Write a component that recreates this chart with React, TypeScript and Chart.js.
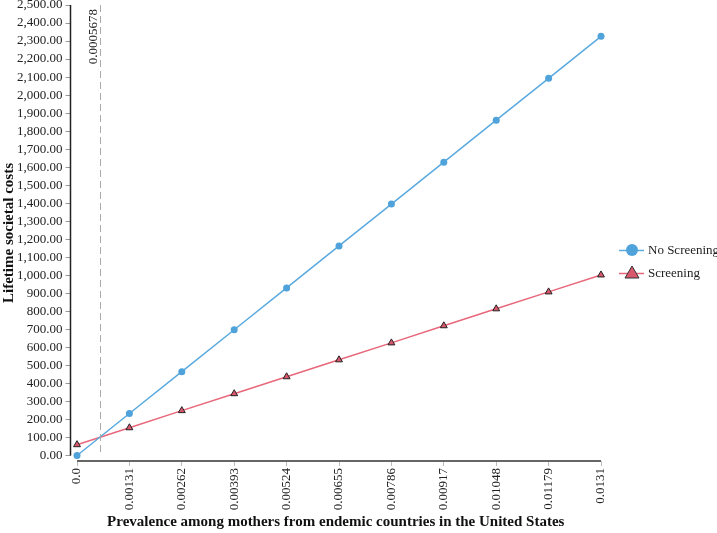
import React, { useEffect, useRef } from "react";
import { Chart, registerables } from "chart.js";

Chart.register(...registerables);

const prevalence = [0, 0.00131, 0.00262, 0.00393, 0.00524, 0.00655, 0.00786, 0.00917, 0.01048, 0.01179, 0.0131];
const prevalenceLabels = ["0.0", "0.00131", "0.00262", "0.00393", "0.00524", "0.00655", "0.00786", "0.00917", "0.01048", "0.01179", "0.0131"];
const noScreening = [0, 233, 465, 698, 930, 1163, 1395, 1628, 1861, 2093, 2326];
const screening = [60, 154, 249, 343, 437, 531, 625, 720, 814, 908, 1002];
const yTicks = Array.from({ length: 26 }, (_, i) => i * 100);
const thresholdValue = 0.0005678;
const thresholdLabel = "0.0005678";
const seriesNames = ["No Screening", "Screening"];

const BLUE = "#5aaade";
const BLUE_PT = "#4fa2da";
const RED = "#e8677a";
const RED_FILL = "#d9576c";
const FONT = "'Liberation Serif', 'Times New Roman', serif";

const fmt = (v: number) =>
  v.toLocaleString("en-US", { minimumFractionDigits: 2, maximumFractionDigits: 2 });

const decorPlugin = {
  id: "decor",
  afterDatasetsDraw(chart: any) {
    const { ctx, chartArea, scales } = chart;
    const x = scales.x;
    const y = scales.y;
    ctx.save();
    // y axis line
    ctx.strokeStyle = "#222";
    ctx.lineWidth = 1.5;
    ctx.beginPath();
    ctx.moveTo(chartArea.left, y.getPixelForValue(2500));
    ctx.lineTo(chartArea.left, y.getPixelForValue(0));
    ctx.stroke();
    // x axis line
    ctx.strokeStyle = "#666";
    ctx.lineWidth = 2;
    ctx.beginPath();
    ctx.moveTo(x.getPixelForValue(0), chartArea.bottom);
    ctx.lineTo(x.getPixelForValue(prevalence[prevalence.length - 1]), chartArea.bottom);
    ctx.stroke();
    // threshold dashed line
    const tx = Math.round(x.getPixelForValue(thresholdValue)) + 0.5;
    ctx.strokeStyle = "#aaa";
    ctx.lineWidth = 1;
    ctx.setLineDash([7, 4]);
    ctx.beginPath();
    ctx.moveTo(tx, y.getPixelForValue(2500));
    ctx.lineTo(tx, y.getPixelForValue(0));
    ctx.stroke();
    ctx.setLineDash([]);
    ctx.translate(tx - 7, 9);
    ctx.rotate(-Math.PI / 2);
    ctx.fillStyle = "#222";
    ctx.font = `13px ${FONT}`;
    ctx.textAlign = "right";
    ctx.textBaseline = "middle";
    ctx.fillText(thresholdLabel, 0, 0);
    ctx.restore();

    // legend
    ctx.save();
    const lx = 632;
    const items = [
      { name: seriesNames[0], y: 250, color: BLUE, type: "circle" },
      { name: seriesNames[1], y: 273, color: RED, type: "triangle" },
    ];
    items.forEach((it) => {
      ctx.strokeStyle = it.color;
      ctx.lineWidth = 1.5;
      ctx.beginPath();
      ctx.moveTo(lx - 13, it.y + 0.5);
      ctx.lineTo(lx + 12, it.y + 0.5);
      ctx.stroke();
      if (it.type === "circle") {
        ctx.fillStyle = BLUE_PT;
        ctx.beginPath();
        ctx.arc(lx, it.y, 6, 0, Math.PI * 2);
        ctx.fill();
      } else {
        ctx.fillStyle = RED_FILL;
        ctx.strokeStyle = "#333";
        ctx.lineWidth = 1;
        ctx.beginPath();
        ctx.moveTo(lx, it.y - 7);
        ctx.lineTo(lx + 7, it.y + 5);
        ctx.lineTo(lx - 7, it.y + 5);
        ctx.closePath();
        ctx.fill();
        ctx.stroke();
      }
      ctx.fillStyle = "#222";
      ctx.font = `13px ${FONT}`;
      ctx.textAlign = "left";
      ctx.textBaseline = "middle";
      ctx.fillText(it.name, lx + 16, it.y + 1);
    });
    ctx.restore();
  },
};

export default function App() {
  const ref = useRef<HTMLCanvasElement>(null);
  useEffect(() => {
    if (!ref.current) return;
    const chart = new Chart(ref.current, {
      type: "line",
      data: {
        datasets: [
          {
            label: seriesNames[0],
            data: prevalence.map((p, i) => ({ x: p, y: noScreening[i] })),
            borderColor: BLUE,
            borderWidth: 1.5,
            pointStyle: "circle",
            pointRadius: 3.5,
            pointBackgroundColor: BLUE_PT,
            pointBorderColor: BLUE_PT,
            pointBorderWidth: 0,
            tension: 0,
            clip: false,
          },
          {
            label: seriesNames[1],
            data: prevalence.map((p, i) => ({ x: p, y: screening[i] })),
            borderColor: RED,
            borderWidth: 1.5,
            pointStyle: "triangle",
            pointRadius: 4,
            pointBackgroundColor: RED_FILL,
            pointBorderColor: "#222",
            pointBorderWidth: 1,
            tension: 0,
            clip: false,
          },
        ],
      },
      plugins: [decorPlugin],
      options: {
        animation: false,
        responsive: false,
        maintainAspectRatio: false,
        layout: { padding: { left: 0, right: 116, top: 5, bottom: 0 } },
        plugins: {
          legend: { display: false },
          tooltip: { enabled: false },
        },
        scales: {
          x: {
            type: "linear",
            min: -0.0001625,
            max: 0.0131,
            afterBuildTicks: (s: any) => {
              s.ticks = prevalence.map((v) => ({ value: v }));
            },
            afterFit: (s: any) => {
              s.height = 72;
              s.paddingLeft = 0;
              s.paddingRight = 0;
            },
            ticks: {
              autoSkip: false,
              minRotation: 90,
              maxRotation: 90,
              padding: 2,
              color: "#222",
              font: { family: FONT, size: 13 },
              callback: (v: any) => {
                const i = prevalence.indexOf(Number(v));
                return i >= 0 ? prevalenceLabels[i] : "";
              },
            },
            grid: {
              display: true,
              drawOnChartArea: false,
              drawTicks: true,
              tickLength: 5,
              tickColor: "#bbb",
            },
            border: { display: false },
            title: {
              display: true,
              text: "Prevalence among mothers from endemic countries in the United States",
              color: "#111",
              font: { family: FONT, size: 15, weight: "bold" },
              padding: { top: 0, bottom: 2 },
            },
          },
          y: {
            type: "linear",
            min: -30.5,
            max: 2500,
            afterBuildTicks: (s: any) => {
              s.ticks = yTicks.map((v) => ({ value: v }));
            },
            afterFit: (s: any) => {
              s.width = 70.5;
              s.paddingTop = 0;
              s.paddingBottom = 0;
            },
            ticks: {
              autoSkip: false,
              padding: 3,
              color: "#222",
              font: { family: FONT, size: 13 },
              callback: (v: any) => fmt(Number(v)),
            },
            grid: {
              display: true,
              drawOnChartArea: false,
              drawTicks: true,
              tickLength: 5,
              tickColor: "#999",
            },
            border: { display: false },
            title: {
              display: true,
              text: "Lifetime societal costs",
              color: "#111",
              font: { family: FONT, size: 15, weight: "bold" },
              padding: { top: 0, bottom: 0 },
            },
          },
        },
      },
    } as any);
    return () => chart.destroy();
  }, []);
  return (
    <div style={{ position: "absolute", left: 0, top: 0, width: 717, height: 533, background: "#fff" }}>
      <canvas ref={ref} width={717} height={533} style={{ display: "block", width: 717, height: 533 }} />
    </div>
  );
}
